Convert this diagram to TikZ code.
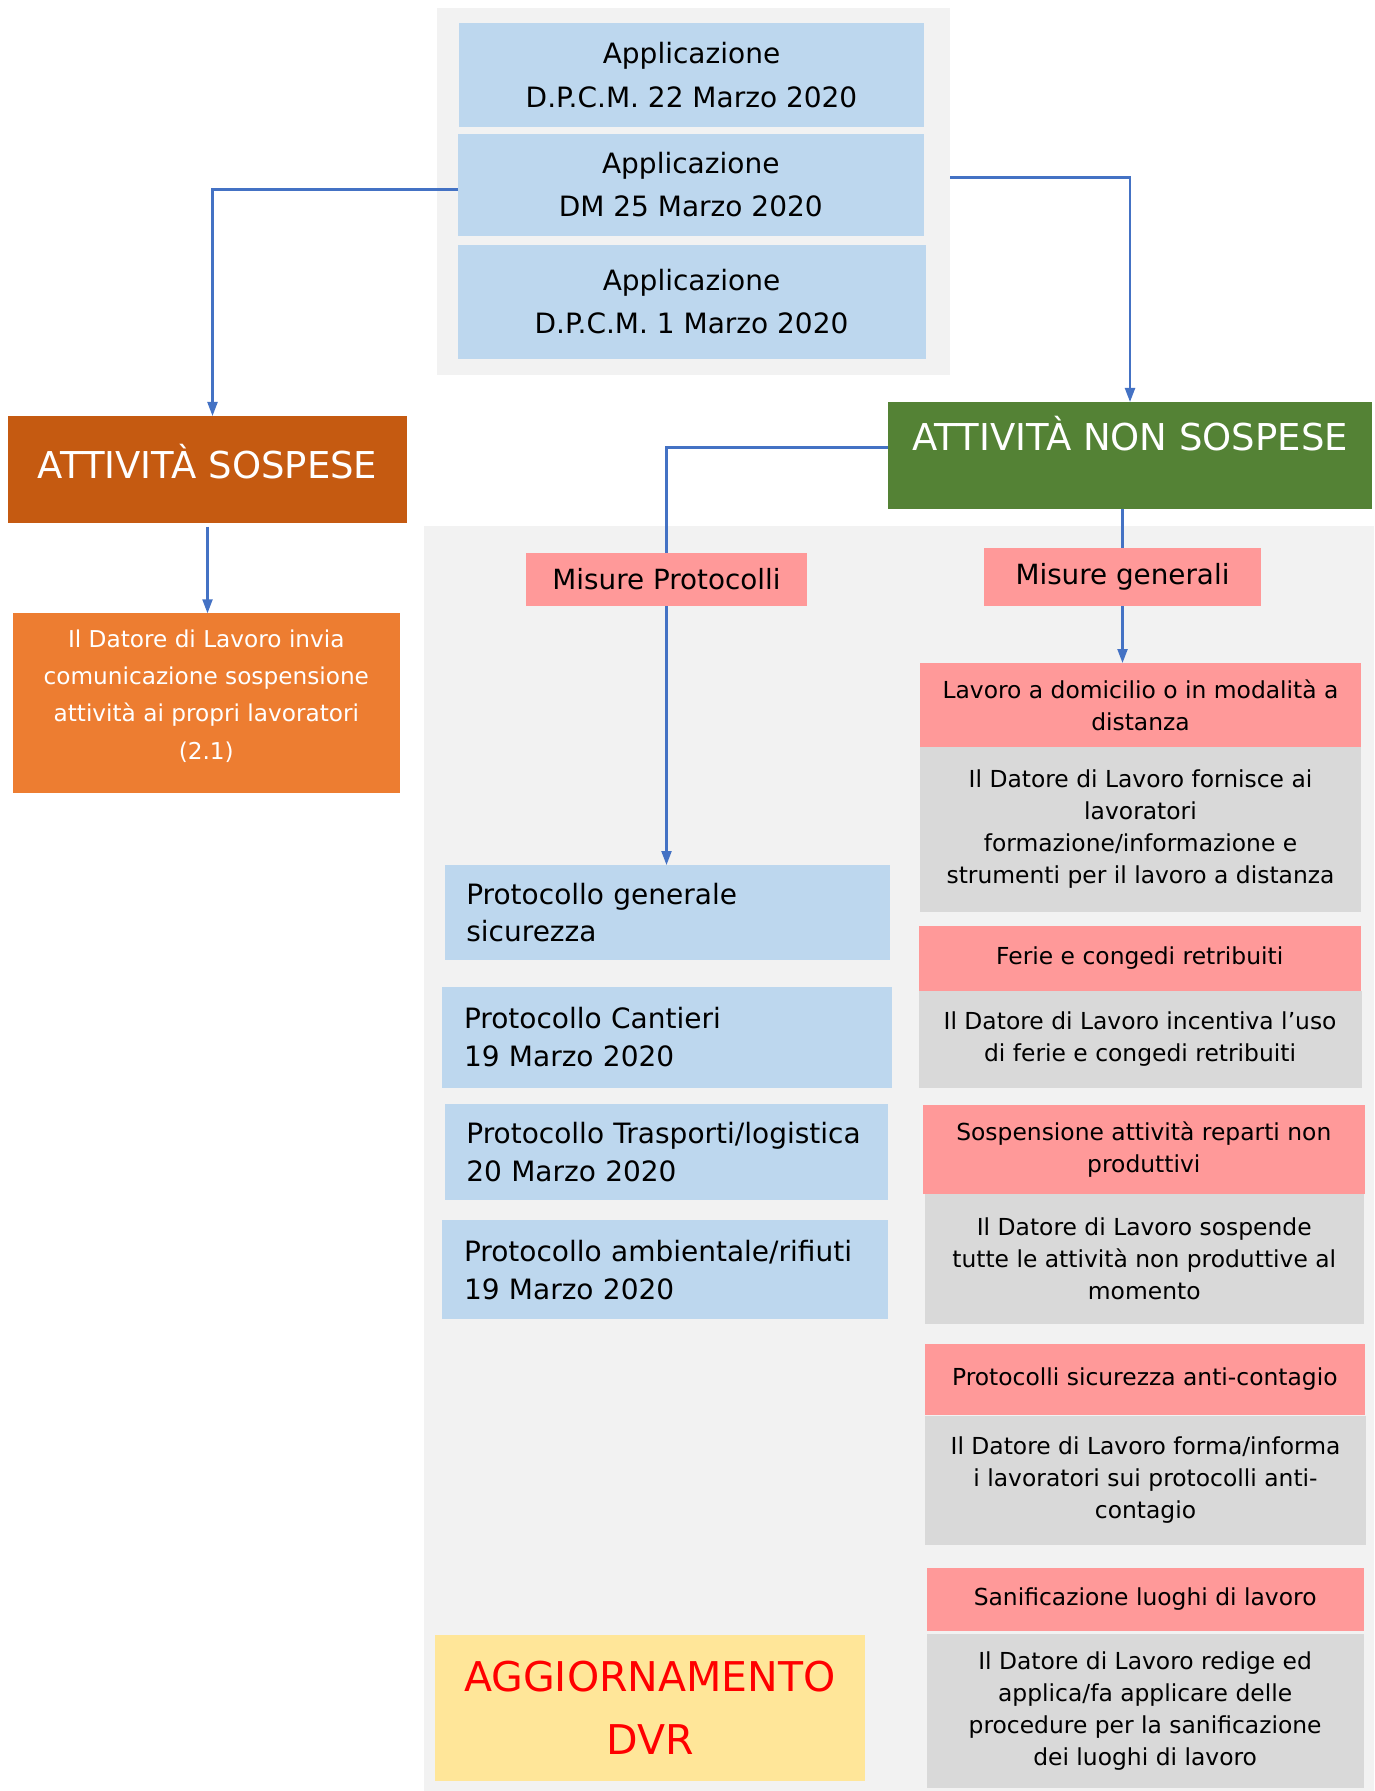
\documentclass[tikz,border=0pt]{standalone}
\usepackage{fontspec}
\setmainfont{DejaVu Sans}
\usetikzlibrary{arrows.meta}
\definecolor{bggray}{HTML}{F2F2F2}
\definecolor{lblue}{HTML}{BDD7EE}
\definecolor{pinkh}{HTML}{FF9999}
\definecolor{grayt}{HTML}{D9D9D9}
\definecolor{dorange}{HTML}{C55A11}
\definecolor{dgreen}{HTML}{548235}
\definecolor{lorange}{HTML}{ED7D31}
\definecolor{lyellow}{HTML}{FFE699}
\definecolor{cblue}{HTML}{4472C4}
\newcommand\fontTop{\fontsize{14}{21.7}\selectfont}
\newcommand\fontMis{\fontsize{13.9}{18}\selectfont}
\newcommand\fontProt{\fontsize{14}{18.9}\selectfont}
\newcommand\fontAtt{\fontsize{18.5}{22}\selectfont}
\newcommand\fontRig{\fontsize{11.7}{16}\selectfont}
\newcommand\fontOra{\fontsize{11.6}{18.6}\selectfont}
\newcommand\fontDvr{\fontsize{20.5}{31.5}\selectfont}
% name, style, x1, y1, x2, y2, text  (coordinates in px)
\newcommand\placebox[7]{%
  \pgfmathsetmacro\bxw{(#5-#3)/2}\pgfmathsetmacro\bxh{(#6-#4)/2}%
  \pgfmathsetmacro\bxcx{(#3+#5)/2}\pgfmathsetmacro\bxcy{(#4+#6)/2}%
  \node[#2,minimum width=\bxw pt,minimum height=\bxh pt] (#1) at (\bxcx,\bxcy) {#7};}
\begin{document}
\begin{tikzpicture}[x=0.5pt,y=-0.5pt,
  box/.style={rectangle,inner sep=0pt,outer sep=0pt,draw=none,align=center},
  bluebox/.style={box,fill=lblue,font=\fontTop},
  protbox/.style={box,fill=lblue,font=\fontProt,align=left},
  head/.style={box,fill=pinkh,font=\fontRig},
  txt/.style={box,fill=grayt,font=\fontRig},
  conn/.style={draw=cblue,line width=1.1pt},
  arr/.style={conn,-{Triangle[length=7pt,width=5pt]}}]
\useasboundingbox (0,0) rectangle (1374,1791);
% backgrounds
\placebox{bgtop}{box,fill=bggray}{437}{8}{950}{375}{}
\placebox{bgbig}{box,fill=bggray}{424}{526}{1374}{1791}{}
% top boxes
\placebox{b1}{bluebox}{459}{23}{924}{127.5}{Applicazione\\D.P.C.M. 22 Marzo 2020}
\placebox{b2}{bluebox}{457.5}{134}{924}{235.7}{Applicazione\\DM 25 Marzo 2020}
\placebox{b3}{bluebox}{457.5}{245}{925.5}{358.6}{Applicazione\\D.P.C.M. 1 Marzo 2020}
% main branches
\placebox{sosp}{box,fill=dorange,text=white,font=\fontAtt}{8}{416}{407}{522.5}{ATTIVITÀ SOSPESE\\[-14pt]}
\node[box,fill=dgreen,text=white,font=\fontAtt,minimum width=242pt,text height=24.5pt,text depth=28.8pt] (green) at (1130,455.3) {ATTIVITÀ NON SOSPESE};
\placebox{orange}{box,fill=lorange,text=white,font=\fontOra}{13}{613.3}{399.6}{792.7}{Il Datore di Lavoro invia\\comunicazione sospensione\\attività ai propri lavoratori\\(2.1)\\[-10pt]}
% misure
\placebox{mp}{box,fill=pinkh,font=\fontMis}{526}{553}{807}{606}{Misure Protocolli}
\placebox{mg}{box,fill=pinkh,font=\fontMis}{984}{548}{1261}{606}{Misure generali}
% protocolli
\placebox{pg}{protbox,text width=201pt}{445}{865}{889.6}{960}{Protocollo generale\\sicurezza}
\placebox{pc}{protbox,text width=203pt}{442}{986.7}{892}{1087.8}{Protocollo Cantieri\\19 Marzo 2020}
\placebox{pt}{protbox,text width=200pt}{444.7}{1104.4}{888}{1200.3}{\mbox{Protocollo Trasporti/logistica}\\20 Marzo 2020}
\placebox{pa}{protbox,text width=201pt}{442}{1220}{888}{1319.4}{\mbox{Protocollo ambientale/rifiuti}\\19 Marzo 2020}
% right column
\placebox{r1h}{head}{920}{663}{1361}{746.7}{Lavoro a domicilio o in modalità a\\distanza}
\placebox{r1t}{txt}{920}{746.7}{1361}{911.7}{Il Datore di Lavoro fornisce ai\\lavoratori\\formazione/informazione e\\strumenti per il lavoro a distanza}
\placebox{r2h}{head}{918.5}{926}{1361}{990.7}{Ferie e congedi retribuiti}
\placebox{r2t}{txt}{918.5}{990.7}{1361.6}{1087.8}{Il Datore di Lavoro incentiva l’uso\\di ferie e congedi retribuiti}
\placebox{r3h}{head}{923}{1105}{1364.6}{1194}{Sospensione attività reparti non\\produttivi}
\placebox{r3t}{txt}{925}{1194}{1363.5}{1324.4}{Il Datore di Lavoro sospende\\tutte le attività non produttive al\\momento}
\placebox{r4h}{head}{925}{1344}{1364.6}{1414.7}{Protocolli sicurezza anti-contagio}
\placebox{r4t}{txt}{925}{1416}{1366}{1545}{Il Datore di Lavoro forma/informa\\i lavoratori sui protocolli anti-\\contagio}
\placebox{r5h}{head}{926.7}{1568}{1363.5}{1631}{Sanificazione luoghi di lavoro}
\placebox{r5t}{txt}{926.7}{1634}{1363.5}{1788}{Il Datore di Lavoro redige ed\\applica/fa applicare delle\\procedure per la sanificazione\\dei luoghi di lavoro}
\placebox{dvr}{box,fill=lyellow,text=red,font=\fontDvr}{434.8}{1634.7}{865}{1781}{AGGIORNAMENTO\\DVR}
% connectors
\draw[arr] ([yshift=-2.3pt]b2.west) -| ([xshift=2.5pt]sosp.north);
\draw[arr] ([yshift=7pt]bgtop.east) -| (green.north);
\draw[arr] ([yshift=-2pt]sosp.south) -- (sosp.south |- orange.north);
\draw[conn] ([yshift=3.9pt]green.west) -| (mp.north);
\draw[conn] (mg.north |- green.south) -- (mg.north);
\draw[arr] (mg.south) -- (mg.south |- r1h.north);
\draw[arr] (mp.south) -- (mp.south |- pg.north);
\end{tikzpicture}
\end{document}
